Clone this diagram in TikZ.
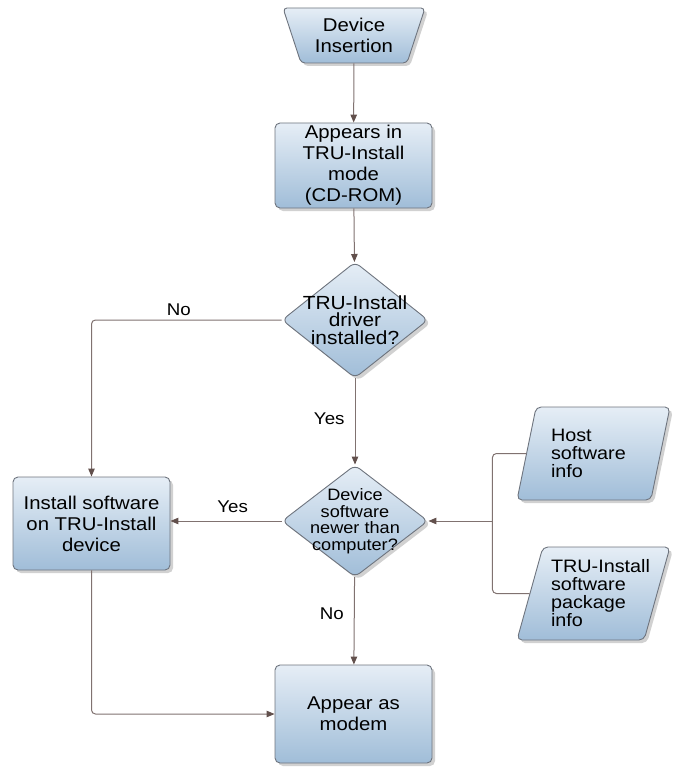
\documentclass[tikz,border=0pt]{standalone}
\usepackage{fontspec}
\setmainfont{Liberation Sans}[FakeStretch=1.1]
\usetikzlibrary{shapes.geometric,arrows.meta,shadows,positioning}
\definecolor{boxtop}{RGB}{230,238,246}
\definecolor{boxbot}{RGB}{160,189,216}
\definecolor{boxline}{RGB}{110,116,126}
\definecolor{linecol}{RGB}{128,114,112}
\definecolor{tipcol}{RGB}{98,80,76}
\begin{document}
\begin{tikzpicture}[
            x=1pt, y=-1pt,
            base/.style={draw=boxline, line width=0.9pt, top color=boxtop, bottom color=boxbot,
                drop shadow={shadow xshift=3pt, shadow yshift=-3pt, fill=black!40, opacity=.45},
                align=center, font=\fontsize{18.5}{21}\selectfont},
            procbox/.style={base, rectangle, rounded corners=5pt, minimum width=157pt, inner sep=0pt},
            decision/.style={base, diamond, aspect=1.3, minimum width=146pt, inner sep=-14pt,
                rounded corners=6pt, font=\fontsize{16.5}{16.5}\selectfont},
            iobox/.style={base, trapezium, trapezium left angle=70, trapezium right angle=110,
                trapezium stretches body, minimum width=153pt, minimum height=93pt,
                text width=85pt, inner xsep=0pt, inner ysep=2pt, align=left, rounded corners=5pt,
                font=\fontsize{18}{18}\selectfont},
            line/.style={draw=linecol, line width=1pt, rounded corners=4pt},
            arrow/.style={line, -{Triangle[length=8pt, width=6.5pt, color=tipcol]}},
            lbl/.style={font=\fontsize{17}{17}\selectfont, inner sep=2pt}
        ]
            \useasboundingbox (0,0) rectangle (673,770);

            % 节点
            \node[base, trapezium, trapezium left angle=65, trapezium right angle=65,
                shape border rotate=180, trapezium stretches body, minimum width=142pt,
                minimum height=55pt, inner sep=2pt, rounded corners=4pt] (ins) at (354,35.5) {Device\\Insertion};
            \node[procbox, minimum height=85pt] (mode) at (353.5,165.5) {Appears in\\TRU-Install\\mode\\(CD-ROM)};
            \node[decision, minimum height=116pt, font=\fontsize{19}{17.5}\selectfont] (drv) at (355,320) {TRU-Install\\driver\\installed?};
            \node[decision, minimum height=112pt] (sw) at (355,521) {Device\\software\\newer than\\computer?};
            \node[procbox, minimum height=93pt] (inst) at (91.5,523.5) {Install software\\on TRU-Install\\device};
            \node[procbox, minimum height=98pt] (modem) at (353.5,714) {Appear as\\modem};
            \node[iobox] (host) at (593.5,453.5) {Host\\software\\info};
            \node[iobox] (pkg) at (593.5,593.5) {\mbox{TRU-Install}\\software\\package\\info};

            % 主干
            \draw[arrow] (ins) -- (mode);
            \draw[arrow] (mode) -- (drv);
            \draw[arrow] (drv) -- node[lbl, left=8pt, pos=.47] (yes1) {Yes} (sw);
            \draw[arrow] (sw) -- node[lbl, left=8pt, pos=.42] (no2) {No} (modem);

            % 左侧分支
            \draw[arrow] (drv.west) -| node[lbl, above=2pt, pos=.27] (no1) {No} (inst.north);
            \draw[arrow] (sw.west) -- node[lbl, above=6pt, pos=.44] (yes2) {Yes} (sw.west -| inst.east);
            \draw[arrow] (inst.south) |- (modem.west);

            % 右侧输入
            \coordinate (jn) at ([xshift=64pt]sw.east);
            \draw[line] (host.west) -| (jn) |- (pkg.west);
            \draw[arrow] (jn) -- (sw.east);

        \end{tikzpicture}
\end{document}
